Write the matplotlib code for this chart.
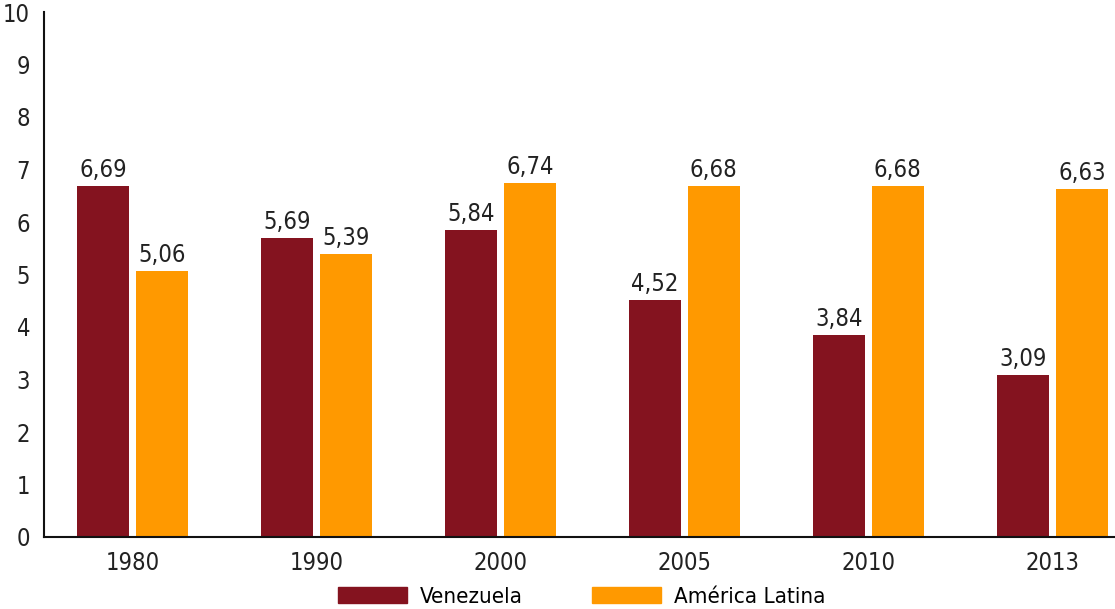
import numpy as np
import matplotlib.pyplot as plt
from matplotlib.patches import Patch

plt.rcParams['font.family'] = ['DejaVu Sans']
plt.rcParams['font.stretch'] = 'condensed'

years = ['1980', '1990', '2000', '2005', '2010', '2013']
venezuela = [6.69, 5.69, 5.84, 4.52, 3.84, 3.09]
latina = [5.06, 5.39, 6.74, 6.68, 6.68, 6.63]
series_names = ['Venezuela', 'América Latina']
colors = ['#84131F', '#FF9900']

fig = plt.figure(figsize=(11.15, 6.09), dpi=100)
ax = fig.add_axes([44 / 1115, 72 / 609, 1 - 44 / 1115, 525 / 609])

x = np.arange(len(years))
w = 0.285
off = 0.16
for vals, col, sgn in [(venezuela, colors[0], -1), (latina, colors[1], 1)]:
    bars = ax.bar(x + sgn * off, vals, width=w, color=col)
    for b, v in zip(bars, vals):
        ax.text(b.get_x() + b.get_width() / 2, v + 0.08, f'{v:.2f}'.replace('.', ','),
                ha='center', va='bottom', fontsize=17, color='#222222')

ax.set_xlim(-0.48, 5.34)
ax.set_ylim(0, 10)
ax.set_yticks(range(0, 11))
ax.set_xticks(x)
ax.set_xticklabels(years)
ax.tick_params(axis='both', length=0, labelsize=17, colors='#222222')
ax.tick_params(axis='x', pad=10)
ax.tick_params(axis='y', pad=10)
for s in ['top', 'right']:
    ax.spines[s].set_visible(False)
for s in ['left', 'bottom']:
    ax.spines[s].set_linewidth(1.5)
    ax.spines[s].set_color('#111111')

handles = [Patch(color=c) for c in colors]
fig.legend(handles, series_names, loc='center left', bbox_to_anchor=(338 / 1115, 1 - 597 / 609),
           ncol=2, frameon=False, fontsize=16, handlelength=3.1, handleheight=0.75,
           columnspacing=3.1, handletextpad=0.6, borderpad=0, borderaxespad=0)

fig.savefig('out.png', dpi=100)
